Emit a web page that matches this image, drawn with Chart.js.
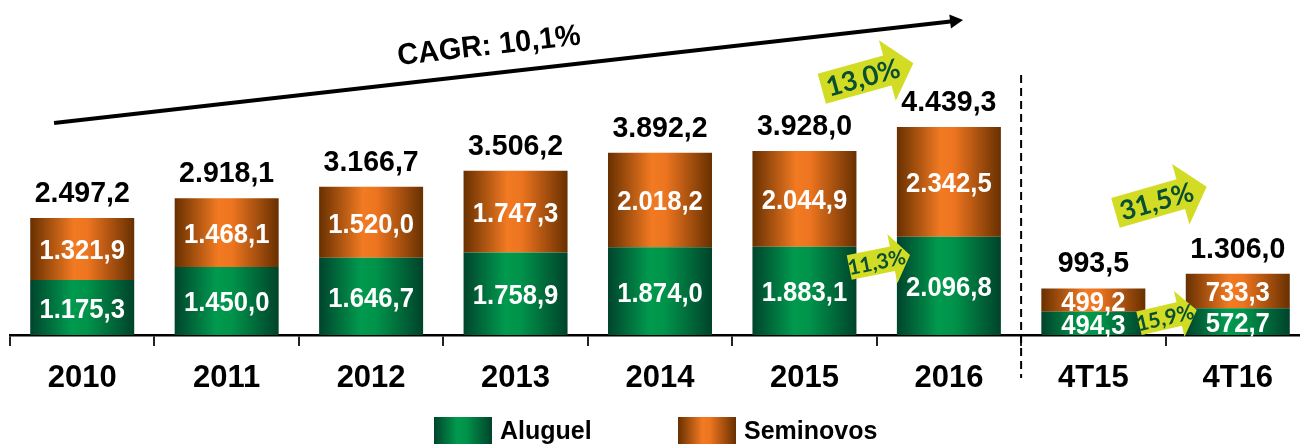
<!DOCTYPE html>
<html lang="pt-BR">
<head>
<meta charset="utf-8">
<title>Receita bruta consolidada</title>
<script src="https://cdn.jsdelivr.net/npm/chart.js@4.4.1/dist/chart.umd.min.js"></script>
<style>
    html, body { margin: 0; padding: 0; background: #fff; overflow: hidden; }
    #wrap { position: relative; width: 1310px; height: 444px; }
</style>
</head>
<body>
<div id="wrap"><canvas id="chart"></canvas></div>
<script>
// Receita bruta (R$ milhões): aluguel + seminovos, anual e trimestral.
const categories = ['2010', '2011', '2012', '2013', '2014', '2015', '2016', '4T15', '4T16'];
const aluguel = [1175.3, 1450.0, 1646.7, 1758.9, 1874.0, 1883.1, 2096.8, 494.3, 572.7];
const seminovos = [1321.9, 1468.1, 1520.0, 1747.3, 2018.2, 2044.9, 2342.5, 499.2, 733.3];
const totals = categories.map((_, i) => aluguel[i] + seminovos[i]);

const cagrLabel = 'CAGR: 10,1%';
const growthLabels = ['13,0%', '11,3%', '31,5%', '15,9%'];

const FONT = '"Liberation Sans", Arial, Helvetica, sans-serif';
const ARROW_FONT = 'Lato, "Open Sans", sans-serif';
const Y_MAX = 7150;

const GREEN_STOPS = [[0, '#00442c'], [0.4, '#009a4e'], [0.55, '#00934a'], [1, '#00432b']];
const ORANGE_STOPS = [[0, '#683000'], [0.42, '#f27a22'], [0.55, '#ee7520'], [1, '#683000']];
const ARROW_FILL = '#d3dc24';
const ARROW_TEXT = '#084f33';

// pt-BR number format: 1.175,3
function fmt(v) {
    const [int, dec] = v.toFixed(1).split('.');
    return int.replace(/\B(?=(\d{3})+(?!\d))/g, '.') + ',' + dec;
}

function hGradient(ctx, x0, x1, stops) {
    const g = ctx.createLinearGradient(x0, 0, x1, 0);
    stops.forEach(([p, c]) => g.addColorStop(p, c));
    return g;
}

// each bar gets its own left-to-right shading
function barFill(stops) {
    return (c) => {
        const chart = c.chart;
        if (!chart.chartArea || c.type !== 'data') return stops[1][1];
        const xs = chart.scales.x;
        const cx = xs.getPixelForValue(c.dataIndex);
        const half = (xs.width / categories.length) * 0.72 / 2;
        return hGradient(chart.ctx, cx - half, cx + half, stops);
    };
}

// slightly narrowed text, closer to the condensed look of the labels
function narrowText(ctx, text, x, y, squeeze) {
    ctx.save();
    ctx.translate(x, y);
    ctx.scale(squeeze, 1);
    ctx.fillText(text, 0, 0);
    ctx.restore();
}

// annotation anchors in (category index, value) space
const cagrLine = { from: [-0.195, 4525], to: [6.098, 6723], text: [2.817, 6158] };
const growthArrows = [
    { label: growthLabels[0], tail: [5.120, 5257], tip: [5.754, 5799], body: 31, headW: 63, headL: 27, size: 27 },
    { label: growthLabels[1], tail: [5.310, 1441], tip: [5.731, 1707], body: 25, headW: 50, headL: 18, size: 21 },
    { label: growthLabels[2], tail: [7.153, 2606], tip: [7.785, 3165], body: 31, headW: 63, headL: 27, size: 27 },
    { label: growthLabels[3], tail: [7.316, 250], tip: [7.716, 534], body: 24, headW: 47, headL: 18, size: 21 },
];
const separator = { at: 6.5, from: 5549, to: -918 };

function toPx(chart, [i, v]) {
    return { x: chart.scales.x.getPixelForValue(i), y: chart.scales.y.getPixelForValue(v) };
}

const barLabels = {
    id: 'barLabels',
    afterDatasetsDraw(chart) {
        const { ctx } = chart;
        ctx.save();
        ctx.textAlign = 'center';
        ctx.textBaseline = 'middle';
        ctx.fillStyle = '#fff';
        ctx.font = `bold 27px ${FONT}`;
        chart.data.datasets.forEach((ds, di) => {
            chart.getDatasetMeta(di).data.forEach((bar, i) => {
                narrowText(ctx, fmt(ds.data[i]), bar.x, (bar.y + bar.base) / 2 + 3, 0.95);
            });
        });

        const top = chart.getDatasetMeta(chart.data.datasets.length - 1).data;
        ctx.fillStyle = '#000';
        ctx.font = `bold 30px ${FONT}`;
        ctx.textBaseline = 'alphabetic';
        top.forEach((bar, i) => narrowText(ctx, fmt(totals[i]), bar.x, bar.y - 16, 0.95));
        ctx.restore();
    },
};

function drawBlockArrow(ctx, tail, tip, a) {
    const len = Math.hypot(tip.x - tail.x, tip.y - tail.y);
    const ang = Math.atan2(tip.y - tail.y, tip.x - tail.x);
    const b = a.body / 2, h = a.headW / 2, neck = len - a.headL;
    ctx.save();
    ctx.translate(tail.x, tail.y);
    ctx.rotate(ang);
    ctx.beginPath();
    ctx.moveTo(0, -b);
    ctx.lineTo(neck, -b);
    ctx.lineTo(neck, -h);
    ctx.lineTo(len, 0);
    ctx.lineTo(neck, h);
    ctx.lineTo(neck, b);
    ctx.lineTo(0, b);
    ctx.closePath();
    ctx.fillStyle = ARROW_FILL;
    ctx.fill();
    ctx.fillStyle = ARROW_TEXT;
    ctx.font = `bold ${a.size}px ${ARROW_FONT}`;
    ctx.textAlign = 'center';
    ctx.textBaseline = 'middle';
    ctx.fillText(a.label, len * 0.45, 1);
    ctx.restore();
}

const annotations = {
    id: 'annotations',
    afterDraw(chart) {
        const { ctx } = chart;
        ctx.save();

        // dashed divider between annual and quarterly figures
        const sx = chart.scales.x.getPixelForValue(separator.at);
        ctx.strokeStyle = '#000';
        ctx.lineWidth = 2;
        ctx.setLineDash([8, 5]);
        ctx.beginPath();
        ctx.moveTo(sx, chart.scales.y.getPixelForValue(separator.from));
        ctx.lineTo(sx, chart.scales.y.getPixelForValue(separator.to));
        ctx.stroke();
        ctx.setLineDash([]);

        // CAGR trend arrow
        const p0 = toPx(chart, cagrLine.from);
        const p1 = toPx(chart, cagrLine.to);
        const ang = Math.atan2(p1.y - p0.y, p1.x - p0.x);
        const headL = 13, headH = 7;
        ctx.lineWidth = 4;
        ctx.beginPath();
        ctx.moveTo(p0.x, p0.y);
        ctx.lineTo(p1.x - Math.cos(ang) * headL * 0.8, p1.y - Math.sin(ang) * headL * 0.8);
        ctx.stroke();
        ctx.save();
        ctx.translate(p1.x, p1.y);
        ctx.rotate(ang);
        ctx.beginPath();
        ctx.moveTo(0, 0);
        ctx.lineTo(-headL, -headH);
        ctx.lineTo(-headL, headH);
        ctx.closePath();
        ctx.fillStyle = '#000';
        ctx.fill();
        ctx.restore();

        const t = toPx(chart, cagrLine.text);
        ctx.save();
        ctx.translate(t.x, t.y);
        ctx.rotate(ang);
        ctx.font = `bold 30px ${FONT}`;
        ctx.fillStyle = '#000';
        ctx.textAlign = 'center';
        ctx.textBaseline = 'middle';
        narrowText(ctx, cagrLabel, 0, 0, 0.96);
        ctx.restore();

        growthArrows.forEach(a => drawBlockArrow(ctx, toPx(chart, a.tail), toPx(chart, a.tip), a));

        // legend
        const items = [
            { label: 'Aluguel', stops: GREEN_STOPS, x: 434 },
            { label: 'Seminovos', stops: ORANGE_STOPS, x: 678 },
        ];
        ctx.font = `bold 25px ${FONT}`;
        ctx.textAlign = 'left';
        ctx.textBaseline = 'alphabetic';
        items.forEach(it => {
            ctx.fillStyle = hGradient(ctx, it.x, it.x + 58, it.stops);
            ctx.fillRect(it.x, 417, 58, 27);
            ctx.fillStyle = '#000';
            ctx.fillText(it.label, it.x + 66, 439);
        });
        ctx.restore();
    },
};

new Chart(document.getElementById('chart'), {
    type: 'bar',
    data: {
        labels: categories,
        datasets: [
            { label: 'Aluguel', data: aluguel, backgroundColor: barFill(GREEN_STOPS) },
            { label: 'Seminovos', data: seminovos, backgroundColor: barFill(ORANGE_STOPS) },
        ],
    },
    options: {
        responsive: true,
        maintainAspectRatio: false,
        animation: false,
        layout: { padding: { left: 10, right: 0, top: 0, bottom: 0 } },
        datasets: { bar: { barPercentage: 0.72, categoryPercentage: 1, borderWidth: 0 } },
        plugins: { legend: { display: false }, tooltip: { enabled: false } },
        scales: {
            x: {
                stacked: true,
                offset: true,
                z: 1,
                grid: { drawOnChartArea: false, drawTicks: true, tickLength: 11, color: '#222', lineWidth: 2, offset: true },
                border: { display: true, color: '#000', width: 2.5 },
                ticks: {
                    color: '#000',
                    padding: 14,
                    maxRotation: 0,
                    autoSkip: false,
                    font: { family: FONT, size: 31, weight: 'bold' },
                },
                afterFit: (scale) => { scale.height = 109; },
            },
            y: { stacked: true, display: false, min: 0, max: Y_MAX },
        },
    },
    plugins: [barLabels, annotations],
});
</script>
</body>
</html>
